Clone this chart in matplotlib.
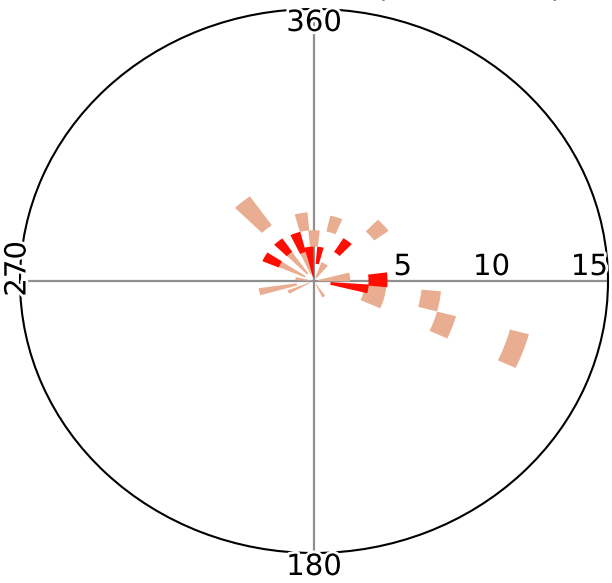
import numpy as np
import matplotlib
matplotlib.use("Agg")
import matplotlib.pyplot as plt
import matplotlib.patheffects as pe

# ---- data ----
salmon_dir = [320, 350, 18, 49, 100, 110, 110, 104.5, 0, 258, 298, 320, 340, 83, 30, 150, 245, 278]
salmon_r0 = [3.75, 2.8, 2.8, 3.8, 5.5, 6.5, 10.35, 2.6, 1.9, 0.9, 0.5, 0.5, 0.4, 0.2, 0.2, 0.2, 0.2, 0.1]
salmon_r1 = [5.7, 3.8, 3.7, 4.7, 6.5, 7.5, 11.35, 3.7, 2.8, 2.85, 2.0, 2.0, 1.65, 1.85, 1.1, 1.0, 1.45, 0.95]
salmon_w = [10, 10, 10, 10, 10, 10, 10, 19, 12, 8, 10, 10, 10, 15, 20, 10, 8, 10]

red_dir = [298, 320, 340, 352, 10, 38, 99, 89]
red_r0 = [1.95, 1.95, 1.65, 0.2, 0.95, 1.9, 0.85, 2.78]
red_r1 = [2.85, 2.85, 2.8, 1.9, 1.9, 2.8, 2.8, 3.75]
red_w = [11, 11, 11, 14, 10, 11, 10, 12.6]

dir_labels = ["360", "180", "270"]
speed_ticks = [5, 10, 15]
title_text = "Wind Rose (knots, 10m)"

# ---- figure ----
W, H = 612, 583
fig = plt.figure(figsize=(W / 100, H / 100), dpi=100)
ax = fig.add_axes([20 / W, (H - 553) / H, 588 / W, 544 / H], projection="polar")
ax.set_aspect("auto")
ax.set_theta_zero_location("N")
ax.set_theta_direction(-1)
ax.set_ylim(0, 15)

ax.set_thetagrids([0, 90, 180, 270], labels=[""] * 4)
ax.set_rgrids([15], labels=[""])
ax.yaxis.grid(False)
ax.xaxis.grid(True, color="#8f8f8f", linewidth=1.6)
ax.tick_params(length=0)
ax.spines["polar"].set_color("black")
ax.spines["polar"].set_linewidth(1.5)

ax.bar(np.deg2rad(salmon_dir), np.array(salmon_r1) - np.array(salmon_r0),
       width=np.deg2rad(salmon_w), bottom=salmon_r0, color="#E9AE91",
       linewidth=0, zorder=3)
ax.bar(np.deg2rad(red_dir), np.array(red_r1) - np.array(red_r0),
       width=np.deg2rad(red_w), bottom=red_r0, color="#FF0D00",
       linewidth=0, zorder=4)

halo = [pe.withStroke(linewidth=4, foreground="white")]
fs = 21
ax.text(0, 15, dir_labels[0], ha="center", va="top", fontsize=fs,
        path_effects=halo, zorder=6, clip_on=False)
ax.text(np.pi, 15, dir_labels[1], ha="center", va="top", fontsize=fs,
        path_effects=halo, zorder=6, clip_on=False)
fig.text(17.5 / W, 1 - 269 / H, dir_labels[2], ha="center", va="center",
         rotation=90, fontsize=fs, path_effects=halo, zorder=6)
for s in speed_ticks:
    ax.text(np.pi / 2, s, str(s), ha="right", va="bottom", fontsize=fs,
            path_effects=halo, zorder=6, clip_on=False)

fig.text(562 / W, 1 + 3.0 / H, title_text, ha="right", va="baseline", fontsize=fs)

fig.savefig("out.png", dpi=100)
